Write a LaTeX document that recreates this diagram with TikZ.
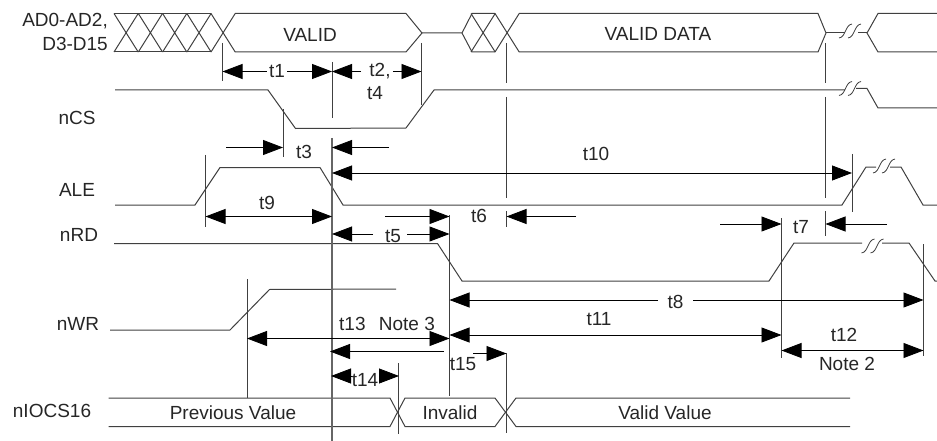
\documentclass[tikz,border=0pt]{standalone}
\usepackage{fontspec}
\setmainfont{Liberation Sans}
\usetikzlibrary{arrows.meta, positioning}

\begin{document}
\begin{tikzpicture}[x=1pt,y=-1pt,>={Triangle[length=20pt,width=15pt]},
        every node/.style={font=\fontsize{19}{21}\selectfont,text=black!85,inner sep=2pt},
        sigline/.style={draw=black!75,line width=1pt},
        tickline/.style={draw=black!75,line width=0.9pt},
        dimline/.style={draw=black,line width=0.8pt},
        sigbreak/.pic={\draw[black!75,line width=0.8pt]
            (-11,7) .. controls (-4,6) and (-5,-6) .. (2,-7)
            (-2,7) .. controls (5,6) and (4,-6) .. (11,-7);}]
    \useasboundingbox (0,0) rectangle (937,441);

    % timing marks
    \foreach \name/\x in {m1/222.5,m2/332,m3/421.5,m4/283,m5/205.5,m6/506.5,m7/825.5,m8/852,
                          m9/449.5,m10/247,m11/398,m12/781.5,m13/923.5}
      \coordinate (\name) at (\x,0);

    % signal names
    \node[anchor=east] (ad)  at (110,21) {AD0-AD2,};
    \node[anchor=east] (d)   at (110,44) {D3-D15};
    \node (ncs)  at (77,118) {nCS};
    \node (ale)  at (77,190) {ALE};
    \node (nrd)  at (79,235) {nRD};
    \node (nwr)  at (78,324) {nWR};
    \node (niocs) at (52,411) {nIOCS16};

    % address / data bus
    \foreach \x in {114,138.3,162.6,186.9,211,471,495}
      \draw[sigline] (\x,13.5) -- ++(24.2,38.5) (\x,52) -- ++(24.2,-38.5);
    \draw[sigline] (114,13.5) -- (211,13.5) (114,52) -- (211,52);
    \draw[sigline] (235,13.5) -- (406,13.5) -- (422,33) -- (406,52) -- (235,52);
    \draw[sigline] (422,33) -- (462,33) -- (472,13.5) -- (495,13.5) (462,33) -- (472,52) -- (495,52);
    \draw[sigline] (519,13.5) -- (818,13.5) -- (826,33) -- (818,52) -- (519,52);
    \draw[sigline] (826,33) -- (845,33) (858,33) -- (867,33);
    \draw[sigline] (937,13.5) -- (878,13.5) -- (867,33) -- (878,52) -- (937,52);
    \pic at (850,31) {sigbreak};
    \node (valid) at (310,35) {VALID};
    \node (vdata) at (658,34) {VALID DATA};

    % control lines
    \draw[sigline] (115,90) -- (268,90) -- (295.5,128.5) -- (406,128) -- (434,90) -- (845,90);
    \draw[sigline] (856,88.5) -- (867,88.5) -- (878,108) -- (937,108);
    \pic at (850,88.5) {sigbreak};
    \draw[sigline] (115,205) -- (195,205) -- (220,167.5) -- (320,167.5) -- (343,205) -- (842,205) -- (866,167) -- (876,167);
    \draw[sigline] (890,167) -- (901,167) -- (923,205) -- (937,205);
    \pic at (884,166) {sigbreak};
    \draw[sigline] (114,243.5) -- (437.5,243.5) -- (462,281) -- (769,281) -- (794,243) -- (862,243);
    \draw[sigline] (882,243) -- (909,243) -- (935,281) -- (937,281);
    \pic at (872.5,246) {sigbreak};
    \draw[sigline] (110,330) -- (230,330) -- (269.5,289.5) -- (396,289);

    % nIOCS16
    \draw[sigline] (108.5,398) -- (390,398) -- (405,426.5) -- (495,426.5) -- (516,398) -- (850,398);
    \draw[sigline] (108.5,426.5) -- (390,426.5) -- (405,398) -- (495,398) -- (516,426.5) -- (850,426.5);
    \node (prev) at (233,413) {Previous Value};
    \node (inv) at (450,413) {Invalid};
    \node (vval) at (665,413) {Valid Value};

    % vertical marks
    \draw[tickline] (m1 |- 0,43) -- (m1 |- 0,81);
    \draw[tickline] (m2 |- 0,62) -- (m2 |- 0,118);
    \draw[tickline,draw=black!60,line width=1.2pt] (m2 |- 0,138) -- (m2 |- 0,441);
    \draw[tickline] (m3 |- 0,43) -- (m3 |- 0,105);
    \draw[tickline] (m4 |- 0,109) -- (m4 |- 0,157);
    \draw[tickline] (m5 |- 0,155) -- (m5 |- 0,227);
    \draw[tickline] (m6 |- 0,43) -- (m6 |- 0,83) (m6 |- 0,97) -- (m6 |- 0,198) (m6 |- 0,211) -- (m6 |- 0,227);
    \draw[tickline] (m7 |- 0,43) -- (m7 |- 0,83) (m7 |- 0,97) -- (m7 |- 0,198) (m7 |- 0,211) -- (m7 |- 0,236);
    \draw[tickline] (m8 |- 0,154) -- (m8 |- 0,212);
    \draw[tickline] (m9 |- 0,215) -- (m9 |- 0,396);
    \draw[tickline] (m10 |- 0,279) -- (m10 |- 0,398);
    \draw[tickline] (m11 |- 0,363) -- (m11 |- 0,434);
    \draw[tickline] (m6 |- 0,353) -- (m6 |- 0,433);
    \draw[tickline] (m12 |- 0,218) -- (m12 |- 0,358);
    \draw[tickline] (m13 |- 0,244) -- (m13 |- 0,356);

    % times
    \node (t1) at (277,71) {t1};
    \draw[dimline,->] (t1.west |- 0,71.5) -- (m1 |- 0,71.5);
    \draw[dimline,->] (t1.east |- 0,71.5) -- (m2 |- 0,71.5);
    \node (t2) at (380,71) {t2,};
    \node (t4) at (375,93) {t4};
    \draw[dimline,->] (361,71.5) -- (m2 |- 0,71.5);
    \draw[dimline,->] (t2.east |- 0,71.5) -- (m3 |- 0,71.5);
    \node (t3) at (304,152) {t3};
    \draw[dimline,->] (226,147.5) -- (m4 |- 0,147.5);
    \draw[dimline,->] (389,147.5) -- (m2 |- 0,147.5);
    \node (t10) at (596,154) {t10};
    \draw[dimline,<->] (m2 |- 0,173) -- (m8 |- 0,173);
    \node (t9) at (267,203) {t9};
    \draw[dimline,<->] (m5 |- 0,216.5) -- (m2 |- 0,216.5);
    \node (t6) at (479,216) {t6};
    \draw[dimline,->] (385,216.5) -- (m9 |- 0,216.5);
    \draw[dimline,->] (576,216.5) -- (m6 |- 0,216.5);
    \node (t5) at (393,236) {t5};
    \draw[dimline,->] (373,234) -- (m2 |- 0,234);
    \draw[dimline,->] (407,234) -- (m9 |- 0,234);
    \node (t7) at (801,227) {t7};
    \draw[dimline,->] (720,224) -- (m12 |- 0,224);
    \draw[dimline,->] (887,224) -- (m7 |- 0,224);
    \node (t8) at (675.5,302) {t8};
    \draw[dimline,->] (658,300) -- (m9 |- 0,300);
    \draw[dimline,->] (693,300) -- (m13 |- 0,300);
    \node (t11) at (599,319) {t11};
    \draw[dimline,<->] (m9 |- 0,335) -- (m12 |- 0,335);
    \node (t13) at (387,324) {t13\hspace{0.7em}Note 3};
    \draw[dimline,<->] (m10 |- 0,338.5) -- (m9 |- 0,338.5);
    \node (t12) at (844,335) {t12};
    \node (note2) at (847,364) {Note 2};
    \draw[dimline,<->] (m12 |- 0,350.5) -- (m13 |- 0,350.5);
    \node (t15) at (463,364) {t15};
    \draw[dimline,->] (444,351.5) -- (330,351.5);
    \draw[dimline,->] (473,353.5) -- (m6 |- 0,353.5);
    \node (t14) at (365,380) {t14};
    \draw[dimline,->] (351,376) -- (331,376);
    \draw[dimline,->] (379,376) -- (399,376);
\end{tikzpicture}
\end{document}
